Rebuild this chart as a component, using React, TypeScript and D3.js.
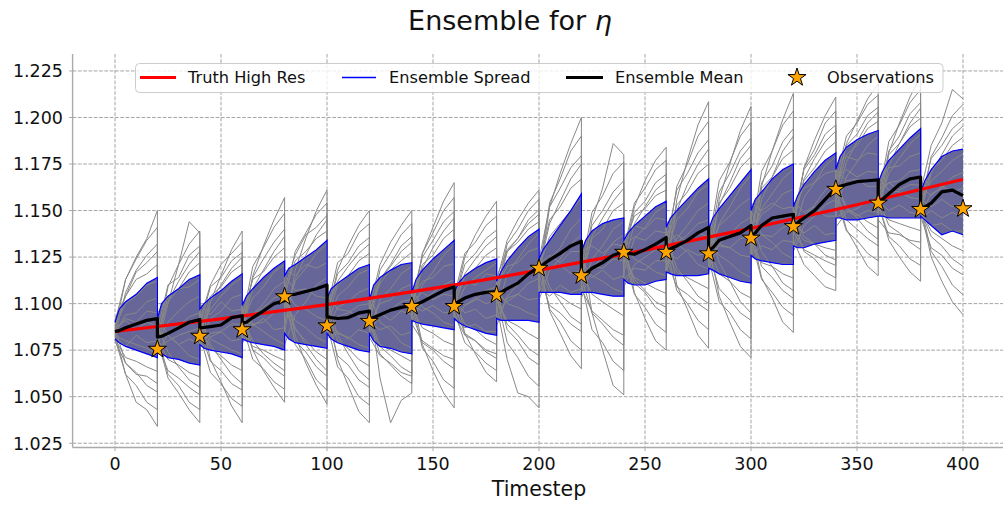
import React from "react";
import * as d3 from "d3";

// ---------- data ----------
const CYCLE_START = [0, 20, 40, 60, 80, 100, 120, 140, 160, 180, 200, 220, 240, 260, 280, 300, 320, 340, 360, 380];
const BAND_OFFSETS = [0, 2, 5, 10, 15, 20];
const MEMBER_OFFSETS = [0, 5, 10, 15, 20];

const ENSEMBLE_MEAN = [
  [1.085, 1.0855, 1.087, 1.089, 1.091, 1.092],
  [1.082, 1.0825, 1.084, 1.087, 1.09, 1.0915],
  [1.087, 1.0872, 1.0876, 1.0885, 1.0925, 1.0935],
  [1.0895, 1.09, 1.0925, 1.096, 1.1, 1.1015],
  [1.1045, 1.1048, 1.105, 1.1065, 1.108, 1.11],
  [1.093, 1.0925, 1.092, 1.0925, 1.095, 1.096],
  [1.0915, 1.0925, 1.094, 1.0965, 1.098, 1.099],
  [1.099, 1.0995, 1.101, 1.104, 1.107, 1.109],
  [1.1, 1.101, 1.103, 1.105, 1.106, 1.1065],
  [1.1055, 1.106, 1.108, 1.111, 1.116, 1.1195],
  [1.1195, 1.121, 1.1235, 1.127, 1.131, 1.1335],
  [1.115, 1.116, 1.119, 1.122, 1.126, 1.128],
  [1.128, 1.127, 1.1265, 1.129, 1.132, 1.1355],
  [1.1285, 1.1295, 1.131, 1.134, 1.138, 1.141],
  [1.1285, 1.13, 1.134, 1.136, 1.138, 1.142],
  [1.136, 1.138, 1.142, 1.146, 1.147, 1.148],
  [1.1425, 1.1435, 1.146, 1.15, 1.156, 1.162],
  [1.1615, 1.163, 1.164, 1.1655, 1.166, 1.1665],
  [1.155, 1.156, 1.159, 1.164, 1.167, 1.168],
  [1.151, 1.152, 1.154, 1.16, 1.161, 1.158],
];

const SPREAD_UPPER = [
  [1.09, 1.097, 1.101, 1.105, 1.111, 1.114],
  [1.092, 1.1, 1.104, 1.108, 1.113, 1.1155],
  [1.097, 1.1, 1.103, 1.107, 1.112, 1.116],
  [1.099, 1.104, 1.108, 1.114, 1.119, 1.123],
  [1.115, 1.119, 1.121, 1.125, 1.129, 1.134],
  [1.103, 1.108, 1.111, 1.115, 1.119, 1.121],
  [1.102, 1.11, 1.114, 1.118, 1.121, 1.122],
  [1.106, 1.113, 1.118, 1.124, 1.129, 1.134],
  [1.106, 1.111, 1.115, 1.119, 1.122, 1.124],
  [1.112, 1.117, 1.123, 1.13, 1.136, 1.14],
  [1.124, 1.129, 1.134, 1.142, 1.15, 1.159],
  [1.128, 1.134, 1.139, 1.143, 1.145, 1.146],
  [1.134, 1.138, 1.142, 1.147, 1.152, 1.155],
  [1.141, 1.146, 1.15, 1.156, 1.162, 1.167],
  [1.14, 1.146, 1.151, 1.158, 1.165, 1.172],
  [1.15, 1.156, 1.16, 1.167, 1.172, 1.175],
  [1.152, 1.158, 1.164, 1.171, 1.177, 1.181],
  [1.172, 1.179, 1.184, 1.188, 1.191, 1.193],
  [1.165, 1.171, 1.177, 1.183, 1.189, 1.194],
  [1.16, 1.166, 1.172, 1.179, 1.182, 1.183],
];

const SPREAD_LOWER = [
  [1.081, 1.079, 1.077, 1.075, 1.073, 1.071],
  [1.075, 1.073, 1.071, 1.07, 1.068, 1.067],
  [1.078, 1.076, 1.075, 1.074, 1.073, 1.071],
  [1.081, 1.08, 1.079, 1.078, 1.077, 1.075],
  [1.084, 1.081, 1.079, 1.078, 1.077, 1.076],
  [1.084, 1.081, 1.079, 1.077, 1.075, 1.074],
  [1.084, 1.08, 1.077, 1.076, 1.074, 1.073],
  [1.091, 1.09, 1.089, 1.088, 1.087, 1.086],
  [1.092, 1.09, 1.088, 1.086, 1.084, 1.083],
  [1.092, 1.091, 1.091, 1.091, 1.091, 1.09],
  [1.106, 1.106, 1.106, 1.106, 1.105, 1.105],
  [1.106, 1.106, 1.106, 1.105, 1.104, 1.104],
  [1.113, 1.111, 1.11, 1.11, 1.112, 1.113],
  [1.117, 1.116, 1.115, 1.115, 1.115, 1.116],
  [1.119, 1.118, 1.116, 1.114, 1.112, 1.111],
  [1.126, 1.124, 1.123, 1.122, 1.121, 1.121],
  [1.131, 1.13, 1.13, 1.132, 1.133, 1.134],
  [1.146, 1.146, 1.145, 1.145, 1.146, 1.147],
  [1.147, 1.147, 1.146, 1.146, 1.146, 1.146],
  [1.147, 1.145, 1.142, 1.137, 1.139, 1.137],
];

const ENSEMBLE_MEMBERS = [
  [[1.084,1.094,1.095,1.101,1.103],[1.085,1.083,1.078,1.081,1.078],[1.083,1.101,1.11,1.119,1.125],[1.099,1.075,1.064,1.055,1.047],[1.078,1.094,1.101,1.11,1.114],[1.093,1.118,1.131,1.142,1.15],[1.105,1.09,1.086,1.079,1.076],[1.093,1.11,1.117,1.126,1.1315],[1.104,1.099,1.103,1.1,1.102],[1.1035,1.089,1.083,1.076,1.072],[1.106,1.124,1.13,1.14,1.146],[1.119,1.114,1.118,1.113,1.115],[1.121,1.143,1.152,1.161,1.166],[1.141,1.11,1.097,1.083,1.076],[1.116,1.156,1.175,1.193,1.206],[1.154,1.15,1.154,1.151,1.152],[1.1425,1.138,1.142,1.137,1.138],[1.15,1.168,1.176,1.185,1.19],[1.161,1.165,1.161,1.164,1.1636],[1.15,1.136,1.131,1.124,1.12]],
  [[1.09,1.113,1.125,1.135,1.15],[1.095,1.101,1.108,1.109,1.113],[1.093,1.078,1.07,1.062,1.057],[1.081,1.089,1.09,1.095,1.096],[1.101,1.091,1.087,1.082,1.079],[1.086,1.098,1.101,1.106,1.1085],[1.095,1.113,1.12,1.128,1.133],[1.106,1.078,1.064,1.052,1.044],[1.09,1.099,1.102,1.107,1.109],[1.1055,1.101,1.105,1.102,1.103],[1.113,1.152,1.17,1.186,1.2],[1.132,1.095,1.075,1.056,1.051],[1.109,1.121,1.125,1.129,1.131],[1.127,1.145,1.151,1.16,1.164],[1.135,1.126,1.122,1.117,1.114],[1.1285,1.156,1.168,1.182,1.19],[1.152,1.162,1.165,1.17,1.1715],[1.165,1.152,1.146,1.139,1.1345],[1.147,1.181,1.197,1.211,1.222],[1.163,1.158,1.163,1.16,1.162]],
  [[1.083,1.08,1.078,1.076,1.073],[1.077,1.1,1.121,1.144,1.138],[1.1,1.094,1.101,1.096,1.097],[1.09,1.103,1.109,1.117,1.121],[1.111,1.083,1.068,1.056,1.046],[1.081,1.085,1.081,1.086,1.084],[1.088,1.1,1.102,1.108,1.1105],[1.101,1.106,1.102,1.105,1.104],[1.099,1.116,1.124,1.131,1.136],[1.112,1.134,1.145,1.154,1.161],[1.1255,1.109,1.101,1.093,1.089],[1.106,1.124,1.131,1.14,1.144],[1.132,1.124,1.121,1.117,1.115],[1.12,1.133,1.137,1.143,1.145],[1.1285,1.142,1.147,1.153,1.157],[1.14,1.114,1.103,1.09,1.0845],[1.128,1.142,1.147,1.153,1.156],[1.159,1.186,1.198,1.21,1.218],[1.168,1.161,1.16,1.157,1.156],[1.149,1.17,1.18,1.19,1.1955]],
  [[1.087,1.091,1.086,1.09,1.088],[1.081,1.06,1.052,1.043,1.036],[1.075,1.101,1.115,1.129,1.139],[1.102,1.089,1.085,1.081,1.078],[1.089,1.113,1.126,1.137,1.145],[1.103,1.083,1.073,1.064,1.059],[1.084,1.094,1.097,1.101,1.1025],[1.099,1.096,1.099,1.095,1.096],[1.096,1.109,1.114,1.118,1.122],[1.109,1.12,1.122,1.128,1.13],[1.121,1.126,1.122,1.128,1.128],[1.114,1.136,1.146,1.155,1.162],[1.134,1.106,1.092,1.08,1.075],[1.114,1.156,1.177,1.196,1.2085],[1.1435,1.122,1.112,1.101,1.095],[1.126,1.131,1.129,1.134,1.133],[1.137,1.157,1.165,1.174,1.179],[1.168,1.172,1.168,1.171,1.1705],[1.155,1.15,1.153,1.149,1.148],[1.148,1.159,1.162,1.168,1.1705]],
  [[1.081,1.062,1.047,1.043,1.034],[1.073,1.084,1.088,1.093,1.095],[1.087,1.082,1.085,1.08,1.081],[1.086,1.115,1.131,1.145,1.157],[1.118,1.115,1.121,1.119,1.122],[1.096,1.112,1.12,1.127,1.132],[1.102,1.06,1.036,1.048,1.052],[1.089,1.08,1.076,1.072,1.07],[1.092,1.087,1.089,1.085,1.085],[1.095,1.116,1.124,1.132,1.138],[1.122,1.118,1.121,1.116,1.118],[1.111,1.145,1.162,1.186,1.18],[1.136,1.142,1.14,1.146,1.145],[1.132,1.137,1.133,1.138,1.136],[1.127,1.153,1.165,1.178,1.185],[1.15,1.137,1.133,1.127,1.124],[1.134,1.121,1.115,1.109,1.107],[1.141,1.149,1.151,1.155,1.156],[1.1514,1.17,1.178,1.186,1.191],[1.156,1.152,1.156,1.152,1.154]],
  [[1.092,1.104,1.117,1.122,1.128],[1.092,1.083,1.078,1.072,1.07],[1.08,1.092,1.096,1.103,1.105],[1.092,1.08,1.073,1.068,1.064],[1.084,1.118,1.135,1.15,1.161],[1.106,1.097,1.096,1.093,1.092],[1.09,1.086,1.088,1.083,1.085],[1.095,1.127,1.141,1.155,1.165],[1.108,1.084,1.073,1.063,1.058],[1.088,1.104,1.11,1.118,1.1226],[1.1195,1.136,1.143,1.15,1.1565],[1.123,1.115,1.112,1.108,1.106],[1.117,1.135,1.141,1.149,1.153],[1.136,1.119,1.112,1.104,1.1],[1.119,1.132,1.137,1.143,1.1465],[1.136,1.148,1.152,1.159,1.1615],[1.1454,1.167,1.178,1.187,1.1927],[1.172,1.166,1.167,1.163,1.163],[1.154,1.134,1.125,1.117,1.112],[1.146,1.15,1.146,1.149,1.1465]],
  [[1.085,1.092,1.09,1.096,1.095],[1.082,1.101,1.112,1.121,1.128],[1.097,1.07,1.058,1.045,1.036],[1.078,1.094,1.1,1.108,1.112],[1.108,1.099,1.097,1.093,1.091],[1.089,1.104,1.109,1.116,1.1185],[1.098,1.121,1.133,1.142,1.15],[1.108,1.098,1.095,1.09,1.088],[1.094,1.083,1.08,1.075,1.073],[1.092,1.103,1.105,1.111,1.1136],[1.1175,1.143,1.155,1.167,1.175],[1.128,1.131,1.127,1.132,1.131],[1.128,1.113,1.107,1.101,1.098],[1.117,1.135,1.142,1.15,1.154],[1.132,1.104,1.09,1.077,1.071],[1.123,1.163,1.182,1.199,1.213],[1.155,1.149,1.152,1.147,1.147],[1.1545,1.176,1.187,1.197,1.203],[1.165,1.173,1.174,1.179,1.181],[1.154,1.166,1.171,1.177,1.1805]],
  [[1.08,1.068,1.062,1.061,1.057],[1.075,1.08,1.083,1.085,1.087],[1.086,1.097,1.104,1.11,1.114],[1.095,1.088,1.092,1.086,1.087],[1.095,1.112,1.119,1.127,1.132],[1.099,1.07,1.056,1.042,1.036],[1.082,1.072,1.068,1.063,1.061],[1.091,1.101,1.106,1.11,1.113],[1.1,1.125,1.137,1.147,1.155],[1.114,1.129,1.135,1.143,1.148],[1.124,1.096,1.084,1.072,1.065],[1.103,1.119,1.125,1.133,1.137],[1.13,1.136,1.134,1.139,1.138],[1.1285,1.124,1.129,1.126,1.127],[1.124,1.131,1.13,1.135,1.136],[1.1345,1.151,1.159,1.167,1.172],[1.148,1.136,1.132,1.126,1.1235],[1.146,1.15,1.147,1.15,1.149],[1.149,1.174,1.186,1.197,1.205],[1.16,1.185,1.197,1.215,1.21]],
  [[1.088,1.1,1.104,1.11,1.112],[1.088,1.074,1.066,1.059,1.055],[1.078,1.084,1.085,1.089,1.089],[1.088,1.108,1.118,1.128,1.136],[1.115,1.107,1.108,1.104,1.103],[1.092,1.084,1.082,1.078,1.076],[1.086,1.102,1.108,1.116,1.12],[1.103,1.112,1.114,1.12,1.1215],[1.102,1.095,1.097,1.092,1.094],[1.099,1.07,1.052,1.05,1.044],[1.102,1.118,1.124,1.132,1.137],[1.115,1.12,1.119,1.124,1.123],[1.126,1.152,1.166,1.177,1.184],[1.145,1.132,1.128,1.121,1.1185],[1.121,1.143,1.152,1.162,1.169],[1.144,1.128,1.12,1.111,1.107],[1.131,1.147,1.153,1.161,1.165],[1.1615,1.14,1.13,1.12,1.115],[1.145,1.138,1.137,1.134,1.133],[1.147,1.142,1.143,1.139,1.139]],
  [[1.082,1.077,1.083,1.079,1.08],[1.079,1.09,1.096,1.101,1.104],[1.09,1.081,1.078,1.075,1.073],[1.083,1.094,1.098,1.103,1.105],[1.1045,1.087,1.078,1.07,1.064],[1.084,1.093,1.095,1.099,1.1],[1.0915,1.095,1.091,1.096,1.094],[1.098,1.119,1.13,1.139,1.146],[1.106,1.112,1.11,1.116,1.115],[1.1075,1.1,1.098,1.095,1.093],[1.109,1.104,1.11,1.106,1.108],[1.108,1.096,1.091,1.086,1.083],[1.113,1.119,1.118,1.123,1.123],[1.123,1.15,1.164,1.175,1.183],[1.14,1.132,1.13,1.126,1.125],[1.1315,1.137,1.136,1.141,1.1426],[1.141,1.173,1.188,1.201,1.211],[1.175,1.179,1.177,1.181,1.18],[1.158,1.165,1.166,1.171,1.172],[1.151,1.125,1.112,1.101,1.094]],
  [[1.089,1.104,1.113,1.116,1.121],[1.086,1.11,1.114,1.126,1.131],[1.091,1.11,1.121,1.127,1.133],[1.0935,1.113,1.117,1.125,1.13],[1.1085,1.126,1.137,1.141,1.1475],[1.097,1.122,1.127,1.138,1.143],[1.0955,1.111,1.118,1.123,1.1276],[1.103,1.125,1.134,1.144,1.1495],[1.104,1.127,1.133,1.142,1.147],[1.1095,1.128,1.133,1.14,1.144],[1.1235,1.152,1.162,1.173,1.1795],[1.119,1.149,1.158,1.17,1.176],[1.132,1.147,1.151,1.158,1.161],[1.1325,1.161,1.17,1.181,1.188],[1.1325,1.166,1.176,1.19,1.1975],[1.14,1.162,1.168,1.178,1.1826],[1.1465,1.172,1.18,1.191,1.196],[1.1655,1.19,1.197,1.207,1.212],[1.159,1.18,1.186,1.195,1.1996],[1.155,1.178,1.185,1.194,1.199]],
  [[1.083,1.106,1.118,1.126,1.132],[1.08,1.109,1.121,1.132,1.139],[1.085,1.104,1.109,1.117,1.121],[1.0875,1.114,1.124,1.133,1.14],[1.1025,1.128,1.138,1.148,1.154],[1.091,1.11,1.115,1.123,1.127],[1.0895,1.113,1.121,1.131,1.136],[1.097,1.127,1.138,1.15,1.157],[1.098,1.115,1.119,1.126,1.13],[1.1035,1.128,1.135,1.145,1.1505],[1.1175,1.154,1.167,1.182,1.19],[1.113,1.135,1.14,1.15,1.154],[1.126,1.149,1.155,1.165,1.1695],[1.1265,1.163,1.175,1.19,1.198],[1.1265,1.154,1.162,1.173,1.179],[1.134,1.165,1.174,1.187,1.194],[1.1405,1.173,1.183,1.197,1.2035],[1.1595,1.18,1.185,1.194,1.198],[1.153,1.182,1.19,1.202,1.208],[1.149,1.179,1.189,1.201,1.207]],
  [[1.086,1.113,1.124,1.134,1.141],[1.083,1.104,1.108,1.117,1.122],[1.088,1.109,1.114,1.123,1.1275],[1.0905,1.12,1.13,1.141,1.1485],[1.1055,1.123,1.128,1.135,1.139],[1.094,1.116,1.122,1.131,1.1355],[1.0925,1.118,1.127,1.137,1.143],[1.1,1.121,1.126,1.135,1.14],[1.101,1.121,1.127,1.135,1.1395],[1.1065,1.132,1.14,1.15,1.156],[1.1205,1.145,1.152,1.162,1.167],[1.116,1.142,1.15,1.16,1.166],[1.129,1.154,1.162,1.172,1.177],[1.1295,1.153,1.16,1.17,1.175],[1.1295,1.16,1.17,1.182,1.189],[1.137,1.171,1.182,1.196,1.2035],[1.1435,1.166,1.173,1.182,1.187],[1.1625,1.185,1.191,1.201,1.2055],[1.156,1.187,1.196,1.208,1.215],[1.152,1.172,1.177,1.185,1.1894]],
  [[1.081,1.071,1.069,1.066,1.0636],[1.078,1.064,1.06,1.055,1.051],[1.083,1.063,1.057,1.049,1.0448],[1.0855,1.077,1.075,1.072,1.0694],[1.1005,1.08,1.074,1.066,1.061],[1.089,1.066,1.06,1.05,1.0455],[1.0875,1.078,1.075,1.072,1.0688],[1.095,1.079,1.075,1.069,1.065],[1.096,1.079,1.074,1.068,1.064],[1.1015,1.091,1.088,1.084,1.0808],[1.1155,1.099,1.095,1.089,1.085],[1.111,1.086,1.079,1.069,1.064],[1.124,1.114,1.111,1.108,1.1054],[1.1245,1.109,1.105,1.1,1.096],[1.1245,1.101,1.095,1.086,1.081],[1.132,1.122,1.12,1.116,1.1137],[1.1385,1.129,1.126,1.123,1.1205],[1.1575,1.139,1.134,1.127,1.123],[1.151,1.145,1.143,1.141,1.1392],[1.147,1.13,1.126,1.119,1.1155]],
  [[1.087,1.068,1.063,1.056,1.0525],[1.084,1.062,1.056,1.047,1.043],[1.089,1.076,1.072,1.067,1.064],[1.0915,1.075,1.071,1.065,1.061],[1.1065,1.078,1.07,1.059,1.0535],[1.095,1.08,1.076,1.07,1.0664],[1.0935,1.077,1.072,1.066,1.0625],[1.101,1.076,1.069,1.059,1.0545],[1.102,1.089,1.086,1.081,1.078],[1.1075,1.086,1.08,1.071,1.067],[1.1215,1.097,1.09,1.08,1.075],[1.117,1.105,1.101,1.097,1.0934],[1.13,1.111,1.106,1.098,1.094],[1.1305,1.107,1.1,1.091,1.086],[1.1305,1.116,1.112,1.106,1.103],[1.138,1.12,1.114,1.107,1.1028],[1.1445,1.128,1.124,1.117,1.1138],[1.1635,1.151,1.148,1.144,1.1406],[1.157,1.142,1.138,1.133,1.129],[1.153,1.128,1.12,1.11,1.1048]],
  [[1.084,1.062,1.056,1.047,1.043],[1.081,1.07,1.067,1.063,1.0606],[1.086,1.069,1.064,1.057,1.0535],[1.0885,1.07,1.065,1.058,1.054],[1.1035,1.086,1.08,1.074,1.07],[1.092,1.072,1.067,1.059,1.055],[1.0905,1.073,1.067,1.061,1.057],[1.098,1.087,1.084,1.08,1.0776],[1.099,1.084,1.08,1.074,1.0705],[1.1045,1.079,1.071,1.061,1.0555],[1.1185,1.107,1.104,1.1,1.097],[1.114,1.095,1.089,1.082,1.0775],[1.127,1.105,1.098,1.089,1.0845],[1.1275,1.117,1.114,1.111,1.108],[1.1275,1.108,1.102,1.095,1.091],[1.135,1.113,1.106,1.098,1.0936],[1.1415,1.134,1.132,1.13,1.1286],[1.1605,1.145,1.14,1.135,1.131],[1.154,1.136,1.131,1.124,1.1205],[1.15,1.139,1.135,1.131,1.1284]],
];

const TRUTH_T = [0, 50, 100, 150, 200, 250, 300, 350, 400];
const TRUTH_V = [1.085, 1.0918, 1.0995, 1.1082, 1.118, 1.1287, 1.1404, 1.1531, 1.1668];

const OBS_T = [20, 40, 60, 80, 100, 120, 140, 160, 180, 200, 220, 240, 260, 280, 300, 320, 340, 360, 380, 400];
const OBS_V = [1.0755, 1.0825, 1.086, 1.1037, 1.0881, 1.0905, 1.0985, 1.0985, 1.1047, 1.119, 1.115, 1.1276, 1.1276, 1.1268, 1.1352, 1.1414, 1.1614, 1.154, 1.1506, 1.151];

const X_TICKS = [0, 50, 100, 150, 200, 250, 300, 350, 400];
const Y_TICKS = [1.025, 1.05, 1.075, 1.1, 1.125, 1.15, 1.175, 1.2, 1.225];

// ---------- helpers ----------
type Pt = [number, number];
function flatten(series: number[][], offsets: number[]): Pt[] {
  const pts: Pt[] = [];
  series.forEach((vals, c) => vals.forEach((v, i) => pts.push([CYCLE_START[c] + offsets[i], v])));
  return pts;
}
function starPath(cx: number, cy: number, R: number): string {
  const r = R * 0.382;
  let p = "";
  for (let i = 0; i < 10; i++) {
    const a = -Math.PI / 2 + (i * Math.PI) / 5;
    const rad = i % 2 === 0 ? R : r;
    p += (i ? "L" : "M") + (cx + rad * Math.cos(a)).toFixed(2) + "," + (cy + rad * Math.sin(a)).toFixed(2);
  }
  return p + "Z";
}

const W = 1003, H = 506;
const LEFT = 72.6, RIGHT = 1005.4, TOP = 54, BOTTOM = 447.5;
const FONT = "DejaVu Sans, Liberation Sans, sans-serif";

export default function App() {
  const x = d3.scaleLinear().domain([-20, 420]).range([LEFT, RIGHT]);
  const y = d3.scaleLinear().domain([1.0227, 1.2341]).range([BOTTOM, TOP]);

  const upper = flatten(SPREAD_UPPER, BAND_OFFSETS);
  const lower = flatten(SPREAD_LOWER, BAND_OFFSETS);
  const band = upper.map((p, i) => ({ t: p[0], hi: p[1], lo: lower[i][1] }));
  const mean = flatten(ENSEMBLE_MEAN, BAND_OFFSETS);
  const members = ENSEMBLE_MEMBERS.map((m) => flatten(m, MEMBER_OFFSETS));
  const truth: Pt[] = TRUTH_T.map((t, i) => [t, TRUTH_V[i]]);

  const line = d3.line<Pt>().x((d) => x(d[0])).y((d) => y(d[1]));
  const smooth = d3.line<Pt>().x((d) => x(d[0])).y((d) => y(d[1])).curve(d3.curveMonotoneX);
  const area = d3
    .area<{ t: number; hi: number; lo: number }>()
    .x((d) => x(d.t))
    .y0((d) => y(d.lo))
    .y1((d) => y(d.hi));

  const bandPath = area(band) || "";
  const ly = 77.5;

  return (
    <svg width={W} height={H} style={{ position: "absolute", left: 0, top: 0, background: "#fff" }} fontFamily={FONT}>
      <defs>
        <clipPath id="plotclip">
          <rect x={LEFT} y={TOP} width={W - LEFT} height={BOTTOM - TOP} />
        </clipPath>
      </defs>
      <rect x={0} y={0} width={W} height={H} fill="#fff" />

      {/* grid */}
      <g stroke="#9a9a9a" strokeWidth={0.9} strokeDasharray="3.7,1.6">
        {X_TICKS.map((t) => (
          <line key={"gx" + t} x1={x(t)} x2={x(t)} y1={TOP} y2={BOTTOM} />
        ))}
        {Y_TICKS.map((v) => (
          <line key={"gy" + v} x1={LEFT} x2={W} y1={y(v)} y2={y(v)} />
        ))}
      </g>

      <g clipPath="url(#plotclip)">
        {/* spread band */}
        <path d={bandPath} fill="#0000ff" />
        <path d={bandPath} fill="#808080" fillOpacity={0.8} />
        {/* members */}
        {members.map((m, i) => (
          <path key={"m" + i} d={line(m) || ""} fill="none" stroke="#888888" strokeWidth={1} strokeLinejoin="round" />
        ))}
        {/* spread edges */}
        <path d={line(upper) || ""} fill="none" stroke="#0000ff" strokeWidth={1.2} />
        <path d={line(lower) || ""} fill="none" stroke="#0000ff" strokeWidth={1.2} />
        {/* truth */}
        <path d={smooth(truth) || ""} fill="none" stroke="#ff0000" strokeWidth={3.2} />
        {/* mean */}
        <path d={line(mean) || ""} fill="none" stroke="#000" strokeWidth={3.2} strokeLinejoin="round" />
        {/* observations */}
        {OBS_T.map((t, i) => (
          <path key={"o" + t} d={starPath(x(t), y(OBS_V[i]), 9.5)} fill="#ffa500" stroke="#000" strokeWidth={1} />
        ))}
      </g>

      {/* spines */}
      <line x1={LEFT} x2={LEFT} y1={TOP} y2={BOTTOM} stroke="#aaaaaa" strokeWidth={1.4} />
      <line x1={LEFT} x2={W} y1={BOTTOM} y2={BOTTOM} stroke="#aaaaaa" strokeWidth={1.6} />

      {/* ticks */}
      {Y_TICKS.map((v) => (
        <g key={"ty" + v}>
          <line x1={LEFT - 3.5} x2={LEFT} y1={y(v)} y2={y(v)} stroke="#aaaaaa" strokeWidth={1} />
          <text x={63} y={y(v)} dy="0.36em" textAnchor="end" fontSize={17.5} fill="#111">
            {v.toFixed(3)}
          </text>
        </g>
      ))}
      {X_TICKS.map((t) => (
        <g key={"tx" + t}>
          <line x1={x(t)} x2={x(t)} y1={BOTTOM} y2={BOTTOM + 3.5} stroke="#aaaaaa" strokeWidth={1} />
          <text x={x(t)} y={470} textAnchor="middle" fontSize={17.5} fill="#111">
            {t}
          </text>
        </g>
      ))}

      <text x={539} y={496} textAnchor="middle" fontSize={20.5} fill="#111">
        Timestep
      </text>

      {/* title */}
      <text x={510} y={30} textAnchor="middle" fontSize={27} fill="#111">
        Ensemble for <tspan fontStyle="italic">η</tspan>
      </text>

      {/* legend */}
      <rect x={135.5} y={63.5} width={807.5} height={29} rx={4} fill="#fff" fillOpacity={0.8} stroke="#cccccc" strokeWidth={1} />
      <line x1={140} x2={176} y1={ly} y2={ly} stroke="#ff0000" strokeWidth={3.2} />
      <text x={188} y={ly} dy="0.36em" fontSize={16.2} fill="#111">Truth High Res</text>
      <line x1={342} x2={376} y1={ly} y2={ly} stroke="#0000ff" strokeWidth={1.4} />
      <text x={389} y={ly} dy="0.36em" fontSize={16.2} fill="#111">Ensemble Spread</text>
      <line x1={566} x2={603} y1={ly} y2={ly} stroke="#000" strokeWidth={3.2} />
      <text x={615} y={ly} dy="0.36em" fontSize={16.2} fill="#111">Ensemble Mean</text>
      <path d={starPath(797, ly, 9.5)} fill="#ffa500" stroke="#000" strokeWidth={1} />
      <text x={827} y={ly} dy="0.36em" fontSize={16.2} fill="#111">Observations</text>
    </svg>
  );
}
